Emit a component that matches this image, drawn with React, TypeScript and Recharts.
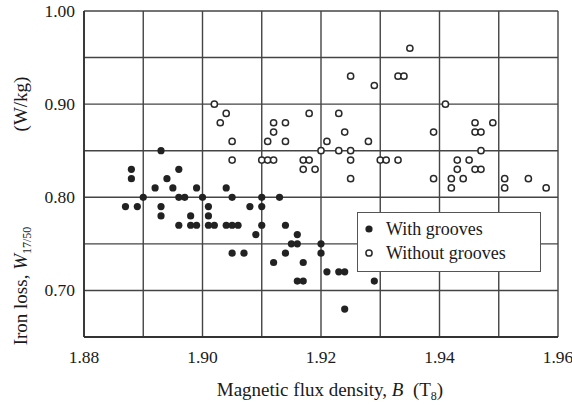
import React from 'react';
import { ScatterChart, Scatter, XAxis, YAxis, CartesianGrid, Legend } from 'recharts';

// Magnetic flux density B (T8) and iron loss W17/50 (W/kg)
const withGroovesB = [
  1.893, 1.888, 1.888, 1.896, 1.894, 1.892, 1.895, 1.899, 1.904,
  1.890, 1.896, 1.897, 1.900, 1.905, 1.910, 1.913,
  1.887, 1.889, 1.893, 1.893, 1.898, 1.896, 1.898, 1.899,
  1.901, 1.901, 1.908, 1.910,
  1.901, 1.902, 1.904, 1.905, 1.906, 1.910, 1.914,
  1.909, 1.916, 1.915, 1.916, 1.920,
  1.905, 1.907, 1.914, 1.920, 1.912, 1.917,
  1.921, 1.923, 1.924, 1.916, 1.917, 1.929, 1.924,
];
const withGroovesW = [
  0.85, 0.83, 0.82, 0.83, 0.82, 0.81, 0.81, 0.81, 0.81,
  0.80, 0.80, 0.80, 0.80, 0.80, 0.80, 0.80,
  0.79, 0.79, 0.79, 0.78, 0.78, 0.77, 0.77, 0.77,
  0.79, 0.78, 0.79, 0.79,
  0.77, 0.77, 0.77, 0.77, 0.77, 0.77, 0.77,
  0.76, 0.76, 0.75, 0.75, 0.75,
  0.74, 0.74, 0.74, 0.74, 0.73, 0.73,
  0.72, 0.72, 0.72, 0.71, 0.71, 0.71, 0.68,
];

const withoutGroovesB = [
  1.902, 1.904, 1.903, 1.905, 1.905, 1.910, 1.911, 1.912,
  1.912, 1.914, 1.912, 1.911, 1.914, 1.918, 1.917, 1.918,
  1.917, 1.919, 1.920, 1.921, 1.935, 1.925, 1.933, 1.934,
  1.929, 1.941, 1.923, 1.924, 1.928, 1.939, 1.923, 1.925,
  1.925, 1.930, 1.931, 1.933, 1.925, 1.939, 1.942, 1.942,
  1.946, 1.949, 1.946, 1.947, 1.947, 1.943, 1.945, 1.943,
  1.946, 1.947, 1.944, 1.951, 1.951, 1.955, 1.958,
];
const withoutGroovesW = [
  0.90, 0.89, 0.88, 0.86, 0.84, 0.84, 0.84, 0.84,
  0.88, 0.88, 0.87, 0.86, 0.86, 0.89, 0.84, 0.84,
  0.83, 0.83, 0.85, 0.86, 0.96, 0.93, 0.93, 0.93,
  0.92, 0.90, 0.89, 0.87, 0.86, 0.87, 0.85, 0.85,
  0.84, 0.84, 0.84, 0.84, 0.82, 0.82, 0.82, 0.81,
  0.88, 0.88, 0.87, 0.87, 0.85, 0.84, 0.84, 0.83,
  0.83, 0.83, 0.82, 0.82, 0.81, 0.82, 0.81,
];

const xTicks = [1.88, 1.89, 1.90, 1.91, 1.92, 1.93, 1.94, 1.95, 1.96];
const xTickLabels = ['1.88', '', '1.90', '', '1.92', '', '1.94', '', '1.96'];
const yTicks = [0.65, 0.70, 0.75, 0.80, 0.85, 0.90, 0.95, 1.00];
const yTickLabels = ['', '0.70', '', '0.80', '', '0.90', '', '1.00'];

const seriesNames = ['With grooves', 'Without grooves'];

const withData = withGroovesB.map((b, i) => ({ b, w: withGroovesW[i] }));
const withoutData = withoutGroovesB.map((b, i) => ({ b, w: withoutGroovesW[i] }));

const FONT = 'Liberation Serif, DejaVu Serif, serif';
const INK = '#1a1a1a';
const textStyle = { fontFamily: FONT };

const XTick = (props: any) => {
  const { x, y, index } = props;
  const label = xTickLabels[index] ?? '';
  if (!label) return null;
  return (
    <text x={x} y={y + 26} textAnchor="middle" style={textStyle} fontSize={17.5} fill={INK}>
      {label}
    </text>
  );
};

const YTick = (props: any) => {
  const { x, y, index } = props;
  const label = yTickLabels[index] ?? '';
  if (!label) return null;
  return (
    <text x={x - 9} y={y + 6} textAnchor="end" style={textStyle} fontSize={17.5} fill={INK}>
      {label}
    </text>
  );
};

const XTitle = () => (
  <text x={330} y={396} textAnchor="middle" style={textStyle} fontSize={19} fill={INK}>
    <tspan>Magnetic flux density, </tspan>
    <tspan fontStyle="italic">B</tspan>
    <tspan>{'\u00A0\u00A0(T'}</tspan>
    <tspan fontSize={12} dy={4}>8</tspan>
    <tspan dy={-4}>)</tspan>
  </text>
);

const YTitle = () => (
  <g>
    <text transform="translate(27,286) rotate(-90)" textAnchor="middle" style={textStyle} fontSize={19} fill={INK}>
      <tspan>Iron loss, </tspan>
      <tspan fontStyle="italic">W</tspan>
      <tspan fontSize={12} dy={4}>17/50</tspan>
    </text>
    <text transform="translate(27,104) rotate(-90)" textAnchor="middle" style={textStyle} fontSize={19} fill={INK}>
      (W/kg)
    </text>
  </g>
);

const FilledDot = (props: any) => (
  <circle cx={props.cx} cy={props.cy} r={3.6} fill="#222" />
);
const OpenDot = (props: any) => (
  <circle cx={props.cx} cy={props.cy} r={3.1} fill="#fff" stroke="#2a2a2a" strokeWidth={1.5} />
);

const LegendBox = () => (
  <div
    style={{
      position: 'relative',
      width: 184,
      height: 60,
      boxSizing: 'border-box',
      border: '1.5px solid #555',
      background: '#fff',
      fontFamily: FONT,
      fontSize: 18,
      color: INK,
    }}
  >
    {seriesNames.map((name, i) => (
      <div key={name} style={{ position: 'absolute', left: 0, top: i === 0 ? 4 : 28, height: 24, width: 184 }}>
        <svg width={20} height={24} style={{ position: 'absolute', left: 1, top: 0 }}>
          {i === 0 ? (
            <circle cx={10} cy={12} r={3.6} fill="#222" />
          ) : (
            <circle cx={10} cy={12} r={3.1} fill="#fff" stroke="#2a2a2a" strokeWidth={1.5} />
          )}
        </svg>
        <span style={{ position: 'absolute', left: 28, top: 1, lineHeight: '22px', whiteSpace: 'nowrap' }}>{name}</span>
      </div>
    ))}
  </div>
);

export default function App() {
  return (
    <div style={{ position: 'absolute', left: 0, top: 0, width: 572, height: 405, background: '#fff', fontFamily: FONT }}>
      <ScatterChart width={572} height={405} margin={{ top: 11, right: 14, bottom: 0, left: 0 }}>
        <CartesianGrid stroke="#444" strokeWidth={1.4} />
        <XAxis
          type="number"
          dataKey="b"
          domain={[1.88, 1.96]}
          ticks={xTicks}
          interval={0}
          allowDataOverflow
          height={68}
          tickLine={false}
          tickSize={0}
          tickMargin={0}
          axisLine={{ stroke: '#333', strokeWidth: 1.8 }}
          tick={<XTick />}
          label={<XTitle />}
        />
        <YAxis
          type="number"
          dataKey="w"
          domain={[0.65, 1.0]}
          ticks={yTicks}
          interval={0}
          allowDataOverflow
          width={84}
          tickLine={false}
          tickSize={0}
          tickMargin={0}
          axisLine={{ stroke: '#333', strokeWidth: 1.8 }}
          tick={<YTick />}
          label={<YTitle />}
        />
        <Legend
          layout="vertical"
          align="center"
          verticalAlign="middle"
          wrapperStyle={{ left: 357, top: 212, width: 184, height: 60 }}
          content={() => <LegendBox />}
        />
        <Scatter name={seriesNames[0]} data={withData} shape={<FilledDot />} isAnimationActive={false} />
        <Scatter name={seriesNames[1]} data={withoutData} shape={<OpenDot />} isAnimationActive={false} />
      </ScatterChart>
    </div>
  );
}
